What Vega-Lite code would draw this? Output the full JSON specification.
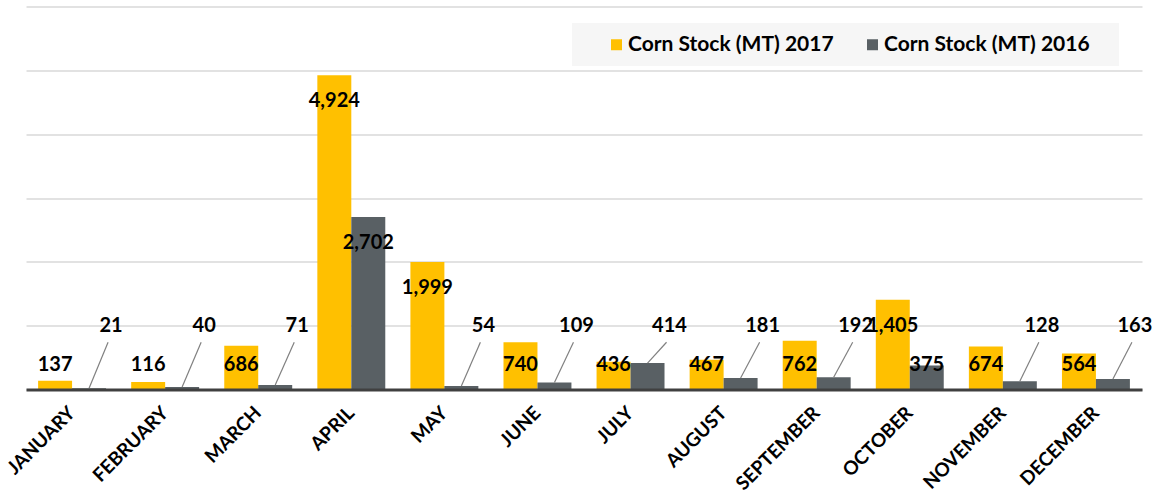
{
  "$schema": "https://vega.github.io/schema/vega-lite/v6.json",
  "width": 1116,
  "height": 383,
  "autosize": {"type": "none"},
  "padding": {"left": 26, "top": 6.5, "right": 10, "bottom": 112},
  "background": "white",
  "config": {
    "view": {"stroke": null},
    "font": "Lato",
    "text": {"font": "Lato", "fontWeight": "bold", "fontSize": 20, "color": "#000000"}
  },
  "data": {
    "values": [
      {"month": "JANUARY", "series": "Corn Stock (MT) 2017", "value": 137},
      {"month": "JANUARY", "series": "Corn Stock (MT) 2016", "value": 21},
      {"month": "FEBRUARY", "series": "Corn Stock (MT) 2017", "value": 116},
      {"month": "FEBRUARY", "series": "Corn Stock (MT) 2016", "value": 40},
      {"month": "MARCH", "series": "Corn Stock (MT) 2017", "value": 686},
      {"month": "MARCH", "series": "Corn Stock (MT) 2016", "value": 71},
      {"month": "APRIL", "series": "Corn Stock (MT) 2017", "value": 4924},
      {"month": "APRIL", "series": "Corn Stock (MT) 2016", "value": 2702},
      {"month": "MAY", "series": "Corn Stock (MT) 2017", "value": 1999},
      {"month": "MAY", "series": "Corn Stock (MT) 2016", "value": 54},
      {"month": "JUNE", "series": "Corn Stock (MT) 2017", "value": 740},
      {"month": "JUNE", "series": "Corn Stock (MT) 2016", "value": 109},
      {"month": "JULY", "series": "Corn Stock (MT) 2017", "value": 436},
      {"month": "JULY", "series": "Corn Stock (MT) 2016", "value": 414},
      {"month": "AUGUST", "series": "Corn Stock (MT) 2017", "value": 467},
      {"month": "AUGUST", "series": "Corn Stock (MT) 2016", "value": 181},
      {"month": "SEPTEMBER", "series": "Corn Stock (MT) 2017", "value": 762},
      {"month": "SEPTEMBER", "series": "Corn Stock (MT) 2016", "value": 192},
      {"month": "OCTOBER", "series": "Corn Stock (MT) 2017", "value": 1405},
      {"month": "OCTOBER", "series": "Corn Stock (MT) 2016", "value": 375},
      {"month": "NOVEMBER", "series": "Corn Stock (MT) 2017", "value": 674},
      {"month": "NOVEMBER", "series": "Corn Stock (MT) 2016", "value": 128},
      {"month": "DECEMBER", "series": "Corn Stock (MT) 2017", "value": 564},
      {"month": "DECEMBER", "series": "Corn Stock (MT) 2016", "value": 163}
    ]
  },
  "encoding": {
    "x": {
      "field": "month",
      "type": "nominal",
      "sort": null,
      "scale": {"paddingInner": 0.27, "paddingOuter": 0.13},
      "axis": {
        "title": null,
        "labelAngle": -45,
        "labelAlign": "right",
        "labelBaseline": "middle",
        "labelPadding": 20,
        "labelFont": "Lato",
        "labelFontWeight": "bold",
        "labelFontSize": 19,
        "labelColor": "#000000",
        "ticks": false,
        "domainColor": "#404040",
        "domainWidth": 3,
        "grid": false,
        "zindex": 1
      }
    },
    "xOffset": {"field": "series", "type": "nominal", "sort": ["Corn Stock (MT) 2017", "Corn Stock (MT) 2016"]}
  },
  "layer": [
    {
      "mark": {"type": "bar"},
      "encoding": {
        "y": {
          "field": "value",
          "type": "quantitative",
          "scale": {"domain": [0, 6000], "nice": false},
          "axis": {
            "title": null,
            "labels": false,
            "ticks": false,
            "domain": false,
            "grid": true,
            "gridColor": "#D9D9D9",
            "gridWidth": 1.5,
            "values": [0, 1000, 2000, 3000, 4000, 5000, 6000]
          }
        },
        "color": {
          "field": "series",
          "type": "nominal",
          "sort": ["Corn Stock (MT) 2017", "Corn Stock (MT) 2016"],
          "scale": {"domain": ["Corn Stock (MT) 2017", "Corn Stock (MT) 2016"], "range": ["#FFC000", "#596064"]},
          "legend": {
            "title": " ",
            "titleOrient": "right",
            "titlePadding": 18,
            "orient": "none",
            "direction": "horizontal",
            "legendX": 546,
            "legendY": 16.5,
            "fillColor": "#F6F6F6",
            "padding": 11,
            "symbolType": "square",
            "symbolSize": 121,
            "symbolStrokeWidth": 0,
            "symbolOffset": 23,
            "labelOffset": 1,
            "columnPadding": 5,
            "labelFont": "Lato",
            "labelFontWeight": "bold",
            "labelFontSize": 21,
            "labelColor": "#000000",
            "labelLimit": 400
          }
        }
      }
    },
    {
      "transform": [{"filter": "datum.value < 1000 && (datum.series == 'Corn Stock (MT) 2017' || datum.month == 'OCTOBER')"}],
      "mark": {"type": "text", "baseline": "middle", "align": "center"},
      "encoding": {
        "y": {"datum": 380},
        "text": {"field": "value", "type": "quantitative", "format": ","}
      }
    },
    {
      "transform": [{"filter": "datum.value >= 1000"}],
      "mark": {"type": "text", "baseline": "middle", "align": "center", "dy": 26},
      "encoding": {
        "y": {"field": "value", "type": "quantitative"},
        "text": {"field": "value", "type": "quantitative", "format": ","}
      }
    },
    {
      "transform": [{"filter": "datum.value < 1000 && datum.series == 'Corn Stock (MT) 2016' && datum.month != 'OCTOBER'"}],
      "mark": {"type": "rule", "stroke": "#808080", "strokeWidth": 1.2, "x2Offset": 36},
      "encoding": {
        "y": {"field": "value", "type": "quantitative"},
        "x2": {"field": "month"},
        "y2": {"datum": 740}
      }
    },
    {
      "transform": [{"filter": "datum.value < 1000 && datum.series == 'Corn Stock (MT) 2016' && datum.month != 'OCTOBER'"}],
      "mark": {"type": "text", "baseline": "middle", "align": "center", "dx": 22},
      "encoding": {
        "y": {"datum": 1000},
        "text": {"field": "value", "type": "quantitative", "format": ","}
      }
    }
  ]
}
